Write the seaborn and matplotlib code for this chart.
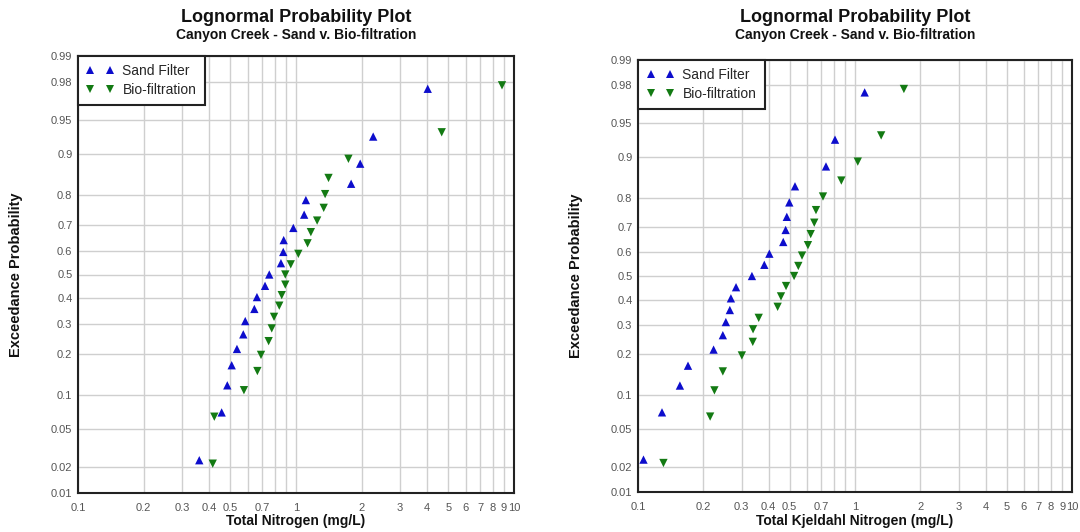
import numpy as np
import pandas as pd
import matplotlib
matplotlib.use("Agg")
import matplotlib.pyplot as plt
import seaborn as sns
from statistics import NormalDist
from matplotlib.lines import Line2D
from matplotlib.ticker import FixedLocator, FixedFormatter, NullLocator

# ---------------- data ----------------
series_names = ["Sand Filter", "Bio-filtration"]

sand_prob = [0.976, 0.929, 0.881, 0.833, 0.786, 0.738, 0.690, 0.643, 0.595, 0.548,
             0.500, 0.452, 0.405, 0.357, 0.310, 0.262, 0.214, 0.167, 0.119, 0.071, 0.024]
bio_prob = [0.978, 0.935, 0.891, 0.848, 0.804, 0.761, 0.717, 0.674, 0.630, 0.587,
            0.543, 0.500, 0.457, 0.413, 0.370, 0.326, 0.283, 0.239, 0.196, 0.152,
            0.109, 0.065, 0.022]

# Total Nitrogen (mg/L)
sand_tn = [4.02, 2.26, 1.97, 1.79, 1.11, 1.09, 0.972, 0.878, 0.874, 0.853,
           0.754, 0.721, 0.662, 0.644, 0.585, 0.573, 0.536, 0.507, 0.484, 0.456, 0.360]
bio_tn = [8.81, 4.66, 1.74, 1.41, 1.36, 1.34, 1.25, 1.17, 1.13, 1.025,
          0.946, 0.893, 0.893, 0.860, 0.838, 0.793, 0.774, 0.749, 0.691, 0.665,
          0.577, 0.422, 0.415]

# Total Kjeldahl Nitrogen (mg/L)
sand_tkn = [1.108, 0.809, 0.735, 0.529, 0.498, 0.485, 0.479, 0.467, 0.403, 0.382,
            0.335, 0.283, 0.268, 0.265, 0.254, 0.246, 0.223, 0.170, 0.156, 0.129, 0.106]
bio_tkn = [1.68, 1.32, 1.03, 0.865, 0.712, 0.661, 0.649, 0.625, 0.607, 0.570,
           0.548, 0.524, 0.481, 0.456, 0.440, 0.360, 0.339, 0.338, 0.301, 0.246,
           0.225, 0.215, 0.131]

title_text = "Lognormal Probability Plot"
subtitle_text = "Canyon Creek - Sand v. Bio-filtration"
ylabel_text = "Exceedance Probability"
xlabels = ["Total Nitrogen (mg/L)", "Total Kjeldahl Nitrogen (mg/L)"]

x_ticks = [0.1, 0.2, 0.3, 0.4, 0.5, 0.6, 0.7, 0.8, 0.9, 1, 2, 3, 4, 5, 6, 7, 8, 9, 10]
x_ticklabels = ["0.1", "0.2", "0.3", "0.4", "0.5", "", "0.7", "", "", "1",
                "2", "3", "4", "5", "6", "7", "8", "9", "10"]
y_ticks = [0.01, 0.02, 0.05, 0.1, 0.2, 0.3, 0.4, 0.5, 0.6, 0.7, 0.8, 0.9, 0.95, 0.98, 0.99]
y_ticklabels = ["0.01", "0.02", "0.05", "0.1", "0.2", "0.3", "0.4", "0.5", "0.6",
                "0.7", "0.8", "0.9", "0.95", "0.98", "0.99"]

colors = {"Sand Filter": "#0d0dcc", "Bio-filtration": "#137a13"}
markers = {"Sand Filter": "^", "Bio-filtration": "v"}

# ---------------- style ----------------
sns.set_theme(style="white")
plt.rcParams["font.family"] = ["Liberation Sans", "DejaVu Sans"]

_nd = NormalDist()
_ppf = np.vectorize(_nd.inv_cdf, otypes=[float])
_cdf = np.vectorize(_nd.cdf, otypes=[float])


def fwd(p):
    p = np.clip(np.asarray(p, dtype=float), 1e-9, 1 - 1e-9)
    return _ppf(p)


def inv(z):
    return _cdf(np.asarray(z, dtype=float))


fig = plt.figure(figsize=(10.8, 5.32), dpi=100)
ax_l = fig.add_axes([78 / 1080, 1 - 493 / 532, 436 / 1080, 437 / 532])
ax_r = fig.add_axes([638 / 1080, 1 - 492 / 532, 434 / 1080, 432 / 532])

panels = [
    (ax_l, sand_tn, bio_tn, xlabels[0]),
    (ax_r, sand_tkn, bio_tkn, xlabels[1]),
]

for ax, sand_x, bio_x, xlab in panels:
    df = pd.DataFrame({
        "conc": list(sand_x) + list(bio_x),
        "prob": list(sand_prob) + list(bio_prob),
        "series": [series_names[0]] * len(sand_x) + [series_names[1]] * len(bio_x),
    })
    sns.scatterplot(data=df, x="conc", y="prob", hue="series", style="series",
                    palette=colors, markers=markers, s=36, linewidth=0,
                    legend=False, ax=ax, zorder=3)
    ax.set_xscale("log")
    ax.set_yscale("function", functions=(fwd, inv))
    ax.set_xlim(0.1, 10)
    ax.set_ylim(0.01, 0.99)

    ax.xaxis.set_major_locator(FixedLocator(x_ticks))
    ax.xaxis.set_major_formatter(FixedFormatter(x_ticklabels))
    ax.xaxis.set_minor_locator(NullLocator())
    ax.yaxis.set_major_locator(FixedLocator(y_ticks))
    ax.yaxis.set_major_formatter(FixedFormatter(y_ticklabels))
    ax.yaxis.set_minor_locator(NullLocator())
    ax.tick_params(axis="both", length=0, labelsize=8, colors="#555555")
    ax.tick_params(axis="x", pad=7)
    ax.tick_params(axis="y", pad=4)
    ax.set_xlabel("")
    ax.set_ylabel("")

    ax.grid(True, color="#cfcfcf", linewidth=1.0)
    ax.set_axisbelow(True)
    for sp in ax.spines.values():
        sp.set_color("#222222")
        sp.set_linewidth(1.5)
        sp.set_visible(True)

    handles = [Line2D([], [], linestyle="none", marker=markers[n], color=colors[n],
                      markersize=6, markeredgewidth=0) for n in series_names]
    leg = ax.legend(handles, series_names, loc="upper left", bbox_to_anchor=(0, 1),
                    borderaxespad=0, numpoints=2, fancybox=False, framealpha=1,
                    edgecolor="#222222", fontsize=10, handlelength=2.0,
                    handletextpad=0.6, borderpad=0.6, labelspacing=0.3)
    leg.get_frame().set_linewidth(1.5)
    leg.set_zorder(5)

    # titles and axis labels
    pos = ax.get_position()
    cx = (pos.x0 + pos.x1) / 2
    fig.text(cx, 1 - 17 / 532, title_text, ha="center", va="center",
             fontsize=13, fontweight="bold", color="#111111")
    fig.text(cx, 1 - 35 / 532, subtitle_text, ha="center", va="center",
             fontsize=10, fontweight="bold", color="#111111")
    fig.text(cx, 1 - 521 / 532, xlab, ha="center", va="center",
             fontsize=10, fontweight="bold", color="#111111")
    fig.text(pos.x0 - 62 / 1080, (pos.y0 + pos.y1) / 2, ylabel_text, ha="center",
             va="center", rotation=90, fontsize=10.5, fontweight="bold", color="#111111")

fig.savefig("out.png", dpi=100)
